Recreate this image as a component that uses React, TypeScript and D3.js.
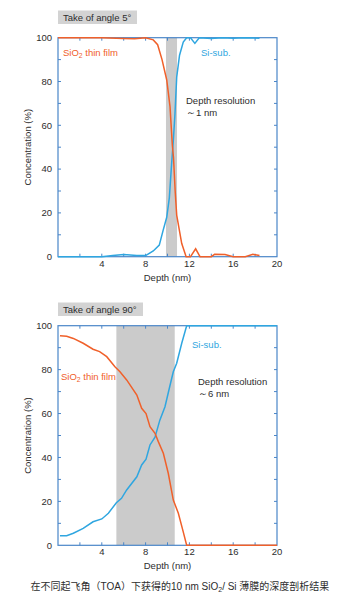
import React from "react";
import * as d3 from "d3";

// ---- Data ----
const topSiO2Depth = [0, 2, 4, 6, 7, 8, 8.7, 9.1, 9.5, 9.93, 10.23, 10.44, 10.55, 10.7, 10.84, 11.3, 11.7, 12.1, 12.57, 12.97, 14.0, 14.3, 15.25, 16, 17.1, 17.8, 18.4];
const topSiO2Conc = [100, 100, 100, 99.6, 99.5, 100, 99, 96.8, 90, 80.7, 68.5, 51, 45, 30, 19, 6, 0, 0, 3.6, 0, 0, 1.1, 1, 0, 0, 1.1, 0.5];
const topSiDepth = [0, 4, 5, 6, 7.2, 8, 8.7, 9.25, 9.6, 9.93, 10.17, 10.37, 10.53, 10.68, 10.84, 11.1, 11.44, 11.75, 12.1, 12.5, 12.9, 14, 15, 16, 17, 18.4];
const topSiConc = [0, 0, 0.5, 1, 0.5, 0.5, 2.6, 5.3, 12, 18, 27, 42, 53, 65, 82, 92, 98, 100, 100, 97.4, 100, 99.6, 100, 99.7, 100, 99.8];

const botSiO2Depth = [0.18, 0.79, 1.4, 2.3, 3.2, 3.8, 4.45, 5.2, 5.66, 6.27, 7.2, 7.64, 8.04, 8.4, 8.86, 9.16, 9.62, 10.07, 10.53, 10.99, 11.39, 11.75, 20];
const botSiO2Conc = [95.4, 95.2, 94.2, 92, 89.3, 88.2, 85.9, 81.3, 79, 75.3, 68.4, 62.4, 60, 54, 51, 47.2, 41.9, 32.8, 20.6, 14.6, 7, 0, 0];
const botSiDepth = [0.18, 0.79, 1.4, 2.3, 3.2, 4.0, 4.6, 5.33, 5.8, 6.27, 7.2, 7.64, 8.04, 8.4, 8.86, 9.3, 9.77, 10.2, 10.53, 10.84, 11.3, 11.75, 20];
const botSiConc = [4.4, 4.4, 5.5, 7.7, 10.7, 12, 14.6, 19.4, 21.4, 25.2, 31.2, 36.6, 39.2, 45.7, 49.2, 57, 63.1, 72.2, 79, 82.9, 92, 100, 100];

const topBand = [9.86, 10.87];
const botBand = [5.33, 10.66];

const xTickLabels = [4, 8, 12, 16, 20];
const yTickLabels = [0, 20, 40, 60, 80, 100];
const xMinorTicks = [2, 4, 6, 8, 10, 12, 14, 16, 18];
const yMinorTicks = [10, 20, 30, 40, 50, 60, 70, 80, 90];

const ORANGE = "#f0602a";
const BLUE = "#2fa6e0";
const AXIS = "#4a86c8";
const TEXT = "#2d2d2d";
const FONT = "Arial, 'Liberation Sans', sans-serif";
const FS = 9.5;

type PanelProps = {
  top: number;
  bottom: number;
  title: string;
  titleBoxW: number;
  titleY: number;
  band: number[];
  sio2D: number[];
  sio2C: number[];
  siD: number[];
  siC: number[];
  sio2Label: [number, number];
  siLabel: [number, number];
  resLabel: [number, number];
  resText: string;
};

function Panel(p: PanelProps) {
  const left = 58;
  const right = 277;
  const x = d3.scaleLinear().domain([0, 20]).range([left, right]);
  const y = d3.scaleLinear().domain([0, 100]).range([p.bottom, p.top]);
  const line = d3
    .line<[number, number]>()
    .x((d) => x(d[0]))
    .y((d) => y(d[1]));
  const sio2 = p.sio2D.map((d, i) => [d, p.sio2C[i]] as [number, number]);
  const si = p.siD.map((d, i) => [d, p.siC[i]] as [number, number]);
  const tl = 3;
  return (
    <g fontFamily={FONT}>
      <rect x={left} y={p.titleY} width={p.titleBoxW} height={13.5} fill="#d3d3d3" />
      <text x={left + 5} y={p.titleY + 10.2} fontSize={FS} fill={TEXT}>
        {p.title}
      </text>
      <rect x={x(p.band[0])} y={p.top} width={x(p.band[1]) - x(p.band[0])} height={p.bottom - p.top} fill="#cbcbcb" />
      {xMinorTicks.map((t) => (
        <g key={"xt" + t}>
          <line x1={x(t)} x2={x(t)} y1={p.bottom} y2={p.bottom - tl} stroke={AXIS} strokeWidth={1} />
          <line x1={x(t)} x2={x(t)} y1={p.top} y2={p.top + tl} stroke={AXIS} strokeWidth={1} />
        </g>
      ))}
      {yMinorTicks.map((t) => (
        <g key={"yt" + t}>
          <line x1={left} x2={left + tl} y1={y(t)} y2={y(t)} stroke={AXIS} strokeWidth={1} />
          <line x1={right} x2={right - tl} y1={y(t)} y2={y(t)} stroke={AXIS} strokeWidth={1} />
        </g>
      ))}
      <rect x={left} y={p.top} width={right - left} height={p.bottom - p.top} fill="none" stroke={AXIS} strokeWidth={1.2} />
      <path d={line(si) || ""} fill="none" stroke={BLUE} strokeWidth={1.5} />
      <path d={line(sio2) || ""} fill="none" stroke={ORANGE} strokeWidth={1.5} />
      {xTickLabels.map((t) => (
        <text key={"xl" + t} x={x(t)} y={p.bottom + 9.8} fontSize={FS} fill={TEXT} textAnchor="middle">
          {t}
        </text>
      ))}
      {yTickLabels.map((t) => (
        <text key={"yl" + t} x={52} y={y(t) + 3.3} fontSize={FS} fill={TEXT} textAnchor="end">
          {t}
        </text>
      ))}
      <text x={(left + right) / 2} y={p.bottom + 23.8} fontSize={FS} fill={TEXT} textAnchor="middle">
        Depth (nm)
      </text>
      <text
        transform={`translate(31,${(p.top + p.bottom) / 2}) rotate(-90)`}
        fontSize={FS}
        fill={TEXT}
        textAnchor="middle"
      >
        Concentration (%)
      </text>
      <text x={p.sio2Label[0]} y={p.sio2Label[1]} fontSize={FS} fill={ORANGE}>
        SiO<tspan fontSize={6.8} dy={2}>2</tspan>
        <tspan dy={-2}> thin film</tspan>
      </text>
      <text x={p.siLabel[0]} y={p.siLabel[1]} fontSize={FS} fill={BLUE}>
        Si-sub.
      </text>
      <text x={p.resLabel[0]} y={p.resLabel[1]} fontSize={FS} fill={TEXT}>
        Depth resolution
      </text>
      <text x={p.resLabel[0]} y={p.resLabel[1] + 12} fontSize={FS} fill={TEXT}>
        {p.resText}
      </text>
    </g>
  );
}

export default function App() {
  return (
    <svg
      width={352}
      height={606}
      style={{ position: "absolute", left: 0, top: 0, background: "#fff" }}
    >
      <rect width={352} height={606} fill="#fff" />
      <Panel
        top={37.7}
        bottom={256.7}
        title="Take of angle 5°"
        titleBoxW={79}
        titleY={10.5}
        band={topBand}
        sio2D={topSiO2Depth}
        sio2C={topSiO2Conc}
        siD={topSiDepth}
        siC={topSiConc}
        sio2Label={[63, 56]}
        siLabel={[201, 56]}
        resLabel={[186, 104]}
        resText="～1 nm"
      />
      <Panel
        top={325.7}
        bottom={545.3}
        title="Take of angle 90°"
        titleBoxW={85}
        titleY={302.5}
        band={botBand}
        sio2D={botSiO2Depth}
        sio2C={botSiO2Conc}
        siD={botSiDepth}
        siC={botSiConc}
        sio2Label={[61, 380]}
        siLabel={[192, 347.5]}
        resLabel={[198, 385]}
        resText="～6 nm"
      />
      <text
        x={180}
        y={590}
        fontSize={10}
        fill={TEXT}
        textAnchor="middle"
        fontFamily="Arial, 'Noto Sans CJK SC', sans-serif"
      >
        在不同起飞角（TOA）下获得的10 nm SiO<tspan fontSize={7} dy={2}>2</tspan>
        <tspan dy={-2}>/ Si 薄膜的深度剖析结果</tspan>
      </text>
    </svg>
  );
}
